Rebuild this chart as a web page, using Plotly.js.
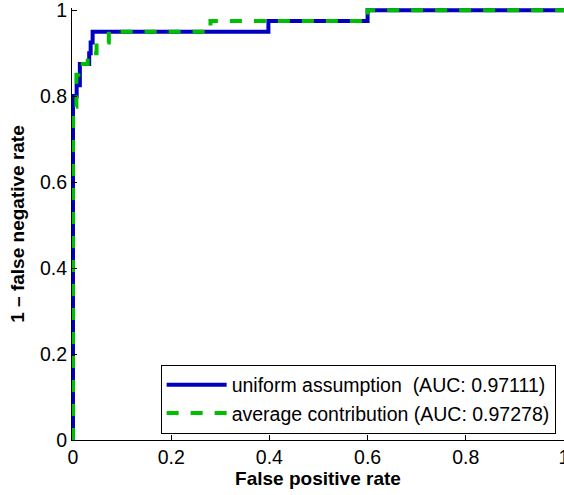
<!DOCTYPE html>
<html>
<head>
<meta charset="utf-8">
<script src="https://cdn.plot.ly/plotly-3.0.1.min.js"></script>
<style>html,body{margin:0;padding:0;background:#fff;}#chart{width:564px;height:495px;}</style>
</head>
<body>
<div id="chart"></div>
<script>
// ROC curve: uniform assumption
var fprUniform = [0, 0, 0.0075, 0.014, 0.033, 0.036, 0.04, 0.398, 0.6, 1];
var tprUniform = [0, 0.8, 0.825, 0.875, 0.9, 0.925, 0.95, 0.975, 1, 1];
// ROC curve: average contribution
var fprAverage = [0, 0, 0.007, 0.011, 0.03, 0.048, 0.073, 0.28, 0.6, 1];
var tprAverage = [0, 0.775, 0.85, 0.875, 0.9, 0.925, 0.95, 0.975, 1, 1];
var seriesNames = ["uniform assumption  (AUC: 0.97111)", "average contribution (AUC: 0.97278)"];
var tickVals = [0, 0.2, 0.4, 0.6, 0.8, 1];
var tickText = ["0", "0.2", "0.4", "0.6", "0.8", "1"];

var font = "Liberation Sans, Arial, Helvetica, sans-serif";
var traces = [
  {x: fprUniform, y: tprUniform, name: seriesNames[0], mode: "lines",
   line: {shape: "hv", color: "#0000bf", width: 4}},
  {x: fprAverage, y: tprAverage, name: seriesNames[1], mode: "lines",
   line: {shape: "hv", color: "#00bf00", width: 4, dash: "dash"}}
];
var axisCommon = {
  showgrid: false, zeroline: false, showline: true, linecolor: "#000", linewidth: 1,
  ticks: "inside", ticklen: 5, tickcolor: "#000", tickwidth: 1,
  tickvals: tickVals, ticktext: tickText, ticklabeloverflow: "allow",
  tickfont: {family: font, size: 19.5, color: "#000"}
};
var layout = {
  width: 564, height: 495,
  margin: {l: 72, r: 0, t: 8, b: 55},
  paper_bgcolor: "#fff", plot_bgcolor: "#fff",
  showlegend: true,
  xaxis: Object.assign({}, axisCommon, {
    range: [-0.002, 1],
    title: {text: "<b>False positive rate</b>", font: {family: font, size: 19, color: "#000"}, standoff: 4}
  }),
  yaxis: Object.assign({}, axisCommon, {
    range: [0, 1.005],
    title: {text: "<b>1 – false negative rate</b>", font: {family: font, size: 19, color: "#000"}, standoff: 10}
  }),
  legend: {
    x: 0.983, y: 0.015, xanchor: "right", yanchor: "bottom",
    bgcolor: "#fff", bordercolor: "#000", borderwidth: 1,
    font: {family: font, size: 19.5, color: "#000"},
    traceorder: "normal", tracegroupgap: 0, itemwidth: 60
  }
};
Plotly.newPlot("chart", traces, layout, {staticPlot: true});
</script>
</body>
</html>
